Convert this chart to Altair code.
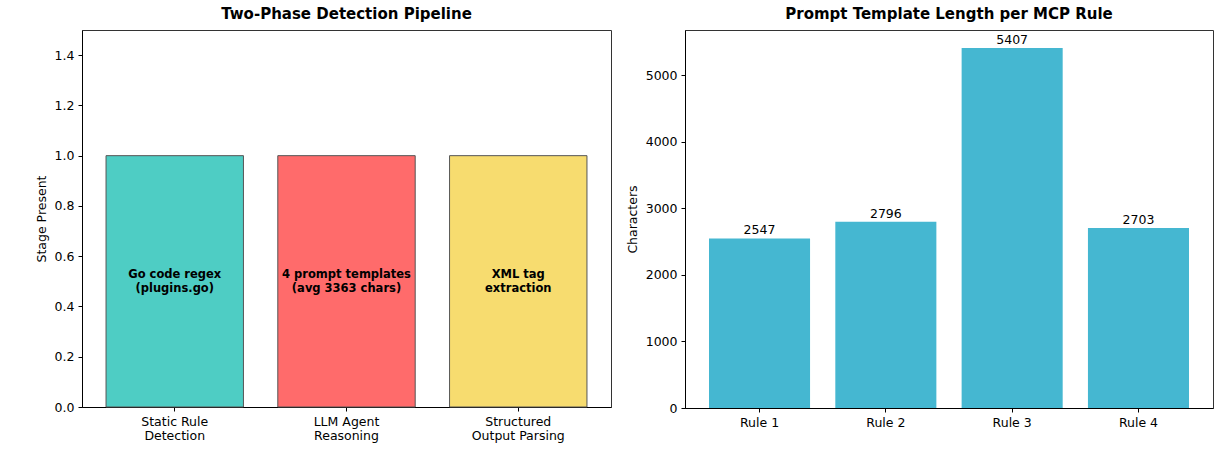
import altair as alt
import pandas as pd

# ---- left panel data ----
stages = ["Static Rule\nDetection", "LLM Agent\nReasoning", "Structured\nOutput Parsing"]
stage_present = [1, 1, 1]
stage_notes = ["Go code regex\n(plugins.go)", "4 prompt templates\n(avg 3363 chars)", "XML tag\nextraction"]
note_pos = [0.5, 0.5, 0.5]
stage_colors = ["#4ECDC4", "#FF6B6B", "#F7DC6F"]
left_ticks = [0.0, 0.2, 0.4, 0.6, 0.8, 1.0, 1.2, 1.4]

# ---- right panel data ----
rules = ["Rule 1", "Rule 2", "Rule 3", "Rule 4"]
template_lengths = [2547, 2796, 5407, 2703]
right_ticks = [0, 1000, 2000, 3000, 4000, 5000]

df1 = pd.DataFrame({"stage": stages, "present": stage_present, "note": stage_notes,
                    "pos": note_pos, "color": stage_colors})
df2 = pd.DataFrame({"rule": rules, "chars": template_lengths})

FS = 12.5

x1 = alt.X("stage:N", sort=stages, title=None,
           scale=alt.Scale(paddingInner=0.2, paddingOuter=0.14),
           axis=alt.Axis(labelAngle=0, labelExpr="split(datum.label, '\\n')",
                         labelLineHeight=14.5, labelOverlap=False))
y1 = alt.Y("present:Q", title="Stage Present",
           scale=alt.Scale(domain=[0, 1.5], nice=False),
           axis=alt.Axis(values=left_ticks, format=".1f"))

bars1 = alt.Chart(df1).mark_bar(stroke="#555555", strokeWidth=1).encode(
    x=x1, y=y1, color=alt.Color("color:N", scale=None))
text1 = alt.Chart(df1).mark_text(fontWeight="bold", fontSize=11.5, lineBreak="\n",
                                 baseline="middle", align="center", color="black",
                                 lineHeight=14, dy=-6).encode(
    x=x1, y=alt.Y("pos:Q"), text="note:N")
left = alt.layer(bars1, text1).properties(
    width=529, height=377, title="Two-Phase Detection Pipeline")

x2 = alt.X("rule:N", sort=rules, title=None,
           scale=alt.Scale(paddingInner=0.2, paddingOuter=0.19),
           axis=alt.Axis(labelAngle=0))
y2 = alt.Y("chars:Q", title="Characters",
           scale=alt.Scale(domain=[0, 5677], nice=False),
           axis=alt.Axis(values=right_ticks, format="d"))
bars2 = alt.Chart(df2).mark_bar(color="#45B7D1").encode(x=x2, y=y2)
text2 = alt.Chart(df2).mark_text(baseline="bottom", dy=-1, fontSize=FS, color="black").encode(
    x=x2, y=y2, text=alt.Text("chars:Q", format="d"))
right = alt.layer(bars2, text2).properties(
    width=528, height=378, title="Prompt Template Length per MCP Rule")

chart = alt.hconcat(left, right, spacing=13).properties(
    padding={"left": 34, "top": 6, "right": 5, "bottom": 5}
).configure(font="DejaVu Sans").configure_view(
    stroke="#333333", strokeWidth=1
).configure_axis(
    grid=False, labelFontSize=FS, titleFontSize=FS, titleFontWeight="normal",
    labelColor="black", titleColor="black", tickColor="black", domainColor="black",
    tickSize=4, labelPadding=4, titlePadding=6
).configure_title(
    fontSize=15, fontWeight="bold", offset=8, color="black", anchor="middle"
)

chart.save("out.html", embed_options={"renderer": "svg", "actions": False})
